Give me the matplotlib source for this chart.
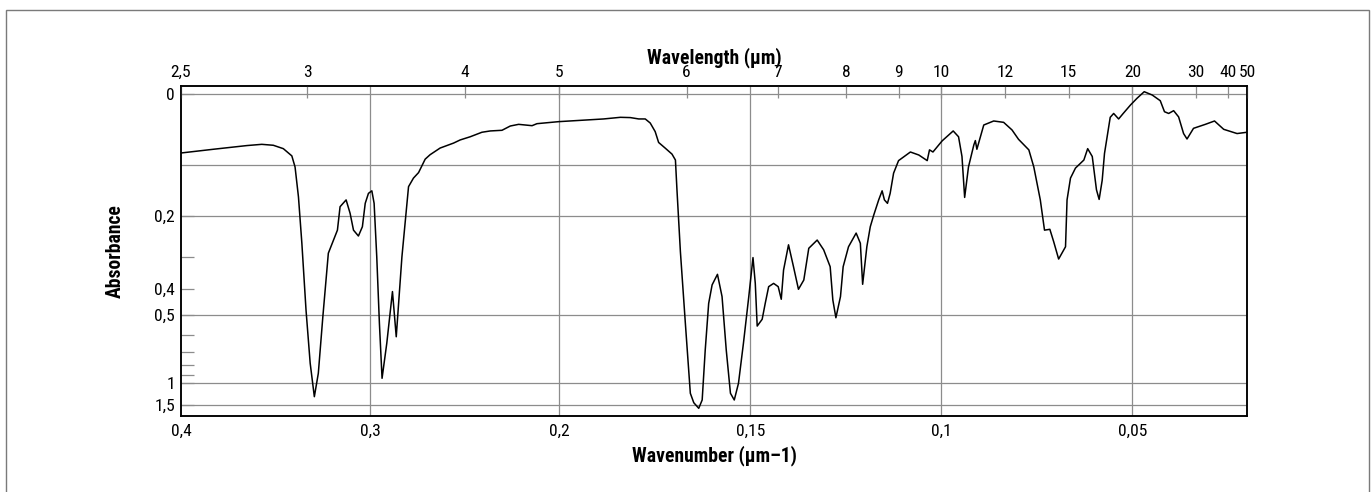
import numpy as np
import matplotlib.pyplot as plt
from matplotlib import font_manager
from matplotlib.patches import Rectangle

# IR spectrum: wavenumber (1/um) and absorbance
wavenumber = np.array([
    0.3996, 0.3829, 0.3652, 0.3573, 0.3512, 0.3459, 0.3414, 0.3397, 0.3379, 0.3361,
    0.3339, 0.3317, 0.3295, 0.3274, 0.3250, 0.3221, 0.3194, 0.3173, 0.3159, 0.3127,
    0.3106, 0.3088, 0.3062, 0.3041, 0.3026, 0.3009, 0.2991, 0.2979, 0.2965, 0.2951,
    0.2937, 0.2912, 0.2882, 0.2862, 0.2832, 0.2797, 0.2771, 0.2744, 0.2709, 0.2683,
    0.2630, 0.2559, 0.2524, 0.2471, 0.2409, 0.2365, 0.2303, 0.2259, 0.2215, 0.2144,
    0.2118, 0.2004, 0.1927, 0.1884, 0.1840, 0.1814, 0.1792, 0.1775, 0.1762, 0.1749,
    0.1740, 0.1723, 0.1705, 0.1696, 0.1692, 0.1683, 0.1670, 0.1657, 0.1648, 0.1635,
    0.1626, 0.1618, 0.1609, 0.1600, 0.1586, 0.1574, 0.1563, 0.1552, 0.1542, 0.1531,
    0.1518, 0.1504, 0.1493, 0.1487, 0.1482, 0.1469, 0.1461, 0.1452, 0.1439, 0.1427,
    0.1419, 0.1413, 0.1400, 0.1387, 0.1374, 0.1360, 0.1347, 0.1325, 0.1308, 0.1291,
    0.1284, 0.1276, 0.1264, 0.1257, 0.1243, 0.1223, 0.1212, 0.1206, 0.1195, 0.1186,
    0.1177, 0.1164, 0.1155, 0.1149, 0.1141, 0.1134, 0.1125, 0.1112, 0.1081, 0.1059,
    0.1037, 0.1031, 0.1022, 0.0998, 0.0969, 0.0955, 0.0946, 0.0939, 0.0929, 0.0915,
    0.0911, 0.0907, 0.0900, 0.0889, 0.0863, 0.0837, 0.0815, 0.0798, 0.0771, 0.0758,
    0.0741, 0.0730, 0.0716, 0.0706, 0.0693, 0.0675, 0.0671, 0.0662, 0.0649, 0.0627,
    0.0617, 0.0605, 0.0594, 0.0587, 0.0579, 0.0573, 0.0566, 0.0558, 0.0549, 0.0536,
    0.0524, 0.0505, 0.0488, 0.0469, 0.0448, 0.0427, 0.0416, 0.0405, 0.0392, 0.0379,
    0.0366, 0.0357, 0.0340, 0.0309, 0.0285, 0.0261, 0.0226, 0.0200])
absorbance = np.array([
    0.080, 0.074, 0.068, 0.066, 0.0675, 0.073, 0.085, 0.104, 0.160, 0.264,
    0.479, 0.788, 1.247, 0.883, 0.507, 0.290, 0.256, 0.232, 0.180, 0.166,
    0.194, 0.232, 0.246, 0.224, 0.173, 0.153, 0.148, 0.173, 0.300, 0.538,
    0.939, 0.645, 0.408, 0.607, 0.300, 0.140, 0.124, 0.114, 0.0905, 0.083,
    0.072, 0.064, 0.059, 0.054, 0.047, 0.045, 0.044, 0.0375, 0.035, 0.037,
    0.034, 0.031, 0.0285, 0.027, 0.0246, 0.025, 0.027, 0.027, 0.033, 0.046,
    0.063, 0.072, 0.082, 0.092, 0.146, 0.286, 0.538, 1.171, 1.426, 1.706,
    1.336, 0.688, 0.452, 0.385, 0.351, 0.426, 0.688, 1.171, 1.336, 1.004,
    0.645, 0.426, 0.302, 0.380, 0.551, 0.519, 0.452, 0.391, 0.380, 0.391,
    0.436, 0.338, 0.268, 0.328, 0.400, 0.369, 0.277, 0.256, 0.281, 0.328,
    0.439, 0.512, 0.426, 0.328, 0.273, 0.239, 0.264, 0.383, 0.273, 0.224,
    0.198, 0.166, 0.148, 0.166, 0.173, 0.153, 0.115, 0.093, 0.0785, 0.0835,
    0.093, 0.075, 0.0785, 0.0605, 0.045, 0.054, 0.086, 0.161, 0.104, 0.067,
    0.060, 0.074, 0.059, 0.036, 0.030, 0.032, 0.0435, 0.058, 0.075, 0.104,
    0.166, 0.232, 0.230, 0.260, 0.306, 0.273, 0.166, 0.124, 0.106, 0.092,
    0.073, 0.086, 0.146, 0.165, 0.128, 0.081, 0.054, 0.0246, 0.019, 0.027,
    0.019, 0.007, -0.0023, -0.0113, -0.0068, 0.001, 0.0165, 0.019, 0.015, 0.024,
    0.049, 0.0575, 0.041, 0.035, 0.030, 0.0425, 0.049, 0.047])

wl_ticks = [2.5, 3, 4, 5, 6, 7, 8, 9, 10, 12, 15, 20, 30, 40, 50]
wl_labels = ['2,5', '3', '4', '5', '6', '7', '8', '9', '10', '12', '15', '20', '30', '40', '50']
wn_ticks = [0.4, 0.3, 0.2, 0.15, 0.1, 0.05]
wn_labels = ['0,4', '0,3', '0,2', '0,15', '0,1', '0,05']
wn_grid = [0.3, 0.2, 0.15, 0.1, 0.05]
abs_ticks = [0.2, 0.4, 0.5, 1, 1.5]
abs_labels = ['0,2', '0,4', '0,5', '1', '1,5']
abs_grid = [0.1, 0.2, 0.5, 1, 1.5]
abs_minor = [0.3, 0.6, 0.7, 0.8, 0.9]
ZERO_LINE = -0.008   # the "0" line is drawn slightly above A=0 in the original

# wavenumber scale is stretched x2 below 0.2 1/um (usual IR chart break)
BREAK = 0.2
STRETCH = 2.02


def fwd(x):
    x = np.asarray(x, dtype=float)
    return np.where(x >= BREAK, x, BREAK + STRETCH * (x - BREAK))


def inv(y):
    y = np.asarray(y, dtype=float)
    return np.where(y >= BREAK, y, BREAK + (y - BREAK) / STRETCH)


def to_T(a):
    return 10.0 ** (-np.asarray(a, dtype=float))


# condensed face if there is one, else the Helvetica-like Liberation Sans
names = {f.name for f in font_manager.fontManager.ttflist}
narrow = [n for n in ('Liberation Sans Narrow', 'Roboto Condensed', 'Open Sans Condensed')
          if n in names]
FONT = narrow[0] if narrow else 'Liberation Sans'
SCALE = 1.2 if narrow else 1.0
plt.rcParams['font.family'] = [FONT, 'DejaVu Sans']

TICK_FS = 10.5 * SCALE
TITLE_FS = 11.8 * SCALE
GRID = '#8c8c8c'
W, H = 1372, 492

fig = plt.figure(figsize=(W / 100, H / 100), dpi=100)
ax = fig.add_axes([181 / W, 1 - 416 / H, (1247 - 181) / W, (416 - 86) / H])
ax.set_xscale('function', functions=(fwd, inv))
ax.set_xlim(0.4, 0.02)
ax.set_ylim(-0.0048, 1.0445)

for a in [ZERO_LINE] + abs_grid:
    ax.axhline(to_T(a), color=GRID, lw=0.9, zorder=1)
for nu in wn_grid:
    ax.axvline(nu, color=GRID, lw=0.9, zorder=1)

ax.plot(wavenumber, to_T(absorbance), color='black', lw=1.1, zorder=3)

ax.set_xticks(wn_ticks)
ax.set_xticklabels(wn_labels)
ax.set_xticks([], minor=True)
ax.tick_params(axis='x', length=0, pad=5.5, labelsize=TICK_FS)

ax.set_yticks(to_T([ZERO_LINE] + abs_ticks))
ax.set_yticklabels(['0'] + abs_labels)
ax.set_yticks(to_T(abs_minor), minor=True)
ax.tick_params(axis='y', which='both', direction='in', length=9.5, width=0.9,
               color=GRID, pad=4.3, labelsize=TICK_FS)

ax2 = ax.twiny()
ax2.set_xscale('function', functions=(fwd, inv))
ax2.set_xlim(ax.get_xlim())
ax2.set_xticks(1.0 / np.array(wl_ticks))
ax2.set_xticklabels(wl_labels)
ax2.set_xticks([], minor=True)
ax2.tick_params(axis='x', direction='in', length=8.5, width=0.9, color=GRID,
                pad=4.3, labelsize=TICK_FS)

for a_ in (ax, ax2):
    for s in a_.spines.values():
        s.set_linewidth(1.1)
        s.set_zorder(4)

fig.text(714 / W, 1 - 63 / H, 'Wavelength (µm)', ha='center', va='baseline',
         fontsize=TITLE_FS, fontweight='bold')
fig.text(714 / W, 1 - 461 / H, 'Wavenumber (µm–1)', ha='center', va='baseline',
         fontsize=TITLE_FS, fontweight='bold')
fig.text(115 / W, 1 - 251 / H, 'Absorbance', ha='center', va='center',
         rotation=90, fontsize=TITLE_FS, fontweight='bold')

# thin grey frame round the whole graphic
fig.patches.append(Rectangle((6 / W, -0.05), (1369 - 6) / W, 1.05 - 10 / H,
                             transform=fig.transFigure, fill=False,
                             edgecolor='#7a7a7a', lw=1.0))

fig.savefig('out.png', dpi=100)
